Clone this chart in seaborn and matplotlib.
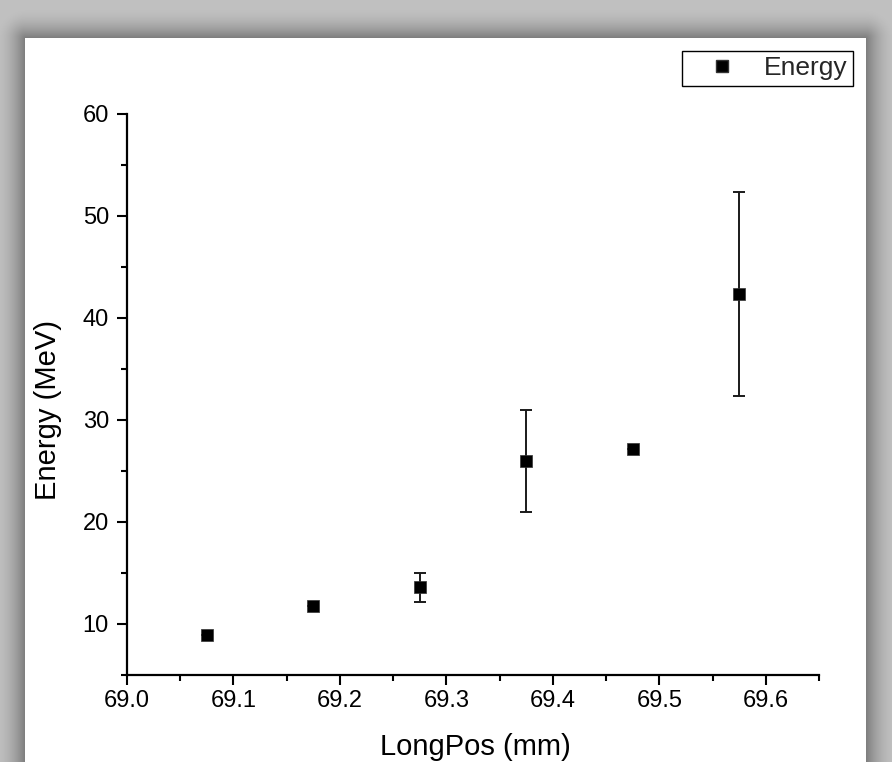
import numpy as np
import pandas as pd
import seaborn as sns
import matplotlib
matplotlib.use("Agg")
import matplotlib.pyplot as plt
from matplotlib.ticker import MultipleLocator, FormatStrFormatter
from matplotlib.lines import Line2D

# Measured beam energy versus longitudinal position
long_pos = [69.075, 69.175, 69.275, 69.375, 69.475, 69.575]
energy = [8.9, 11.8, 13.6, 26.0, 27.2, 42.4]
energy_err = [0.0, 0.0, 1.4, 5.0, 0.0, 10.0]

df = pd.DataFrame({"LongPos": long_pos, "Energy": energy, "Err": energy_err})

sns.set_theme(style="ticks")
plt.rcParams["font.family"] = ["Liberation Sans", "DejaVu Sans"]

W, H = 892, 762
fig = plt.figure(figsize=(W / 100, H / 100), dpi=100)
fig.patch.set_facecolor("#c0c0c0")

# Page backdrop: white sheet with a soft drop shadow on a grey desk
yy, xx = np.mgrid[0:H, 0:W].astype(float)
px0, px1, py0 = 25, 866, 38
dx = np.maximum(np.maximum(px0 - xx, xx - (px1 - 1)), 0)
dy = np.maximum(py0 - yy, 0)
d = np.hypot(dx, dy)
shade = 0.27 * np.clip(1 - d / 30.0, 0, 1) ** 1.8
base = 0.755 - shade
bg = np.dstack([base, base, base])
bg[py0:, px0:px1, :] = 1.0
fig.figimage(bg, xo=0, yo=0, origin="upper", zorder=-10)

ax = fig.add_axes([127 / W, 1 - 675 / H, (819 - 127) / W, (675 - 114) / H])
ax.set_facecolor("none")

ax.errorbar(df["LongPos"], df["Energy"], yerr=df["Err"], fmt="none",
            ecolor="#1a1a1a", elinewidth=1.4, capsize=4.2, capthick=1.4, zorder=2)
sns.scatterplot(data=df, x="LongPos", y="Energy", marker="s", s=82,
                color="black", edgecolor="#333333", linewidth=0.5,
                legend=False, ax=ax, zorder=3)

ax.set_xlim(69.0, 69.65)
ax.set_ylim(5, 60)
ax.xaxis.set_major_locator(MultipleLocator(0.1))
ax.xaxis.set_minor_locator(MultipleLocator(0.05))
ax.xaxis.set_major_formatter(FormatStrFormatter("%.1f"))
ax.yaxis.set_major_locator(MultipleLocator(10))
ax.yaxis.set_minor_locator(MultipleLocator(5))

for side in ("top", "right"):
    ax.spines[side].set_visible(False)
for side in ("left", "bottom"):
    ax.spines[side].set_linewidth(1.6)
    ax.spines[side].set_color("black")

ax.tick_params(which="major", direction="out", length=7, width=1.5,
               labelsize=17, colors="black")
ax.tick_params(which="minor", direction="out", length=4, width=1.5, colors="black")
ax.tick_params(axis="x", which="major", pad=4)
ax.tick_params(axis="y", which="major", pad=6)

ax.set_xlabel("LongPos (mm)", fontsize=21, color="black")
ax.set_ylabel("Energy (MeV)", fontsize=21, color="black")
ax.xaxis.set_label_coords(0.503, -0.128)
ax.yaxis.set_label_coords(-0.114, 0.472)
ax.xaxis.label.set_va("center")
ax.yaxis.label.set_va("center")

handle = Line2D([], [], linestyle="none", marker="s", markersize=8.5,
                color="black", markeredgecolor="#333333")
leg = fig.legend([handle], ["Energy"], loc="upper right",
                 bbox_to_anchor=(853 / W, 1 - 51 / H), fontsize=19,
                 frameon=True, fancybox=False, edgecolor="black",
                 facecolor="white", framealpha=1, borderpad=0.2,
                 handlelength=2.6, handletextpad=0.3, borderaxespad=0)
leg.get_frame().set_linewidth(1.0)

fig.savefig("out.png", dpi=100)
